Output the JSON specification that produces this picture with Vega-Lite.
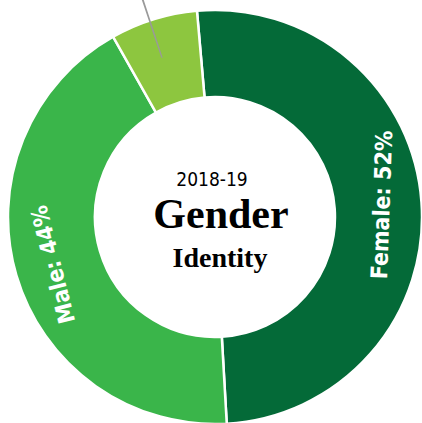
{
  "$schema": "https://vega.github.io/schema/vega-lite/v6.json",
  "autosize": {"type": "none"},
  "padding": {"left": 8, "top": 10, "right": 0, "bottom": 0},
  "width": 414,
  "height": 414,
  "background": "white",
  "view": {"stroke": null},
  "data": {
    "values": [
      {"group": "Female", "pct": 52, "label": "Female: 52%"},
      {"group": "Male", "pct": 44, "label": "Male: 44%"},
      {"group": "Other", "pct": 7, "label": ""}
    ]
  },
  "layer": [
    {
      "mark": {"type": "arc", "radius": 207, "innerRadius": 120, "stroke": "white", "strokeWidth": 2.5},
      "encoding": {
        "theta": {"field": "pct", "type": "quantitative", "stack": true, "scale": {"range": [-0.0873, 6.1959]}},
        "order": {"field": "group", "sort": "ascending"},
        "color": {
          "field": "group", "type": "nominal", "legend": null,
          "scale": {"domain": ["Female", "Male", "Other"], "range": ["#046a38", "#3ab54a", "#8dc63f"]}
        }
      }
    },
    {
      "mark": {"type": "text", "radius": 168, "font": "DejaVu Sans Condensed, Roboto Condensed, Liberation Sans Narrow, Roboto, sans-serif", "fontWeight": "bold", "fontSize": 23, "fill": "white", "align": "center", "baseline": "middle"},
      "encoding": {
        "theta": {"field": "pct", "type": "quantitative", "stack": true},
        "order": {"field": "group", "sort": "ascending"},
        "text": {"field": "label"},
        "angle": {"condition": {"test": "datum.group === 'Female'", "value": 272}, "value": 256}
      }
    },
    {
      "data": {"values": [{"t": "leader"}]},
      "mark": {"type": "arc", "theta": 5.958, "theta2": 5.966, "radius": 240, "innerRadius": 168, "fill": "#9a9a9a"},
      "encoding": {}
    },
    {
      "data": {"values": [{"t": "2018-19"}]},
      "mark": {"type": "text", "font": "DejaVu Sans Condensed, Roboto Condensed, Liberation Sans Narrow, Roboto, sans-serif", "fontSize": 19, "fill": "black", "align": "center", "baseline": "alphabetic", "dx": -3, "dy": -31},
      "encoding": {"text": {"field": "t"}}
    },
    {
      "data": {"values": [{"t": "Gender"}]},
      "mark": {"type": "text", "font": "Liberation Serif", "fontWeight": "bold", "fontSize": 42, "fill": "black", "align": "center", "baseline": "alphabetic", "dx": 6, "dy": 11},
      "encoding": {"text": {"field": "t"}}
    },
    {
      "data": {"values": [{"t": "Identity"}]},
      "mark": {"type": "text", "font": "Liberation Serif", "fontWeight": "bold", "fontSize": 28, "fill": "black", "align": "center", "baseline": "alphabetic", "dx": 5, "dy": 50},
      "encoding": {"text": {"field": "t"}}
    }
  ]
}
